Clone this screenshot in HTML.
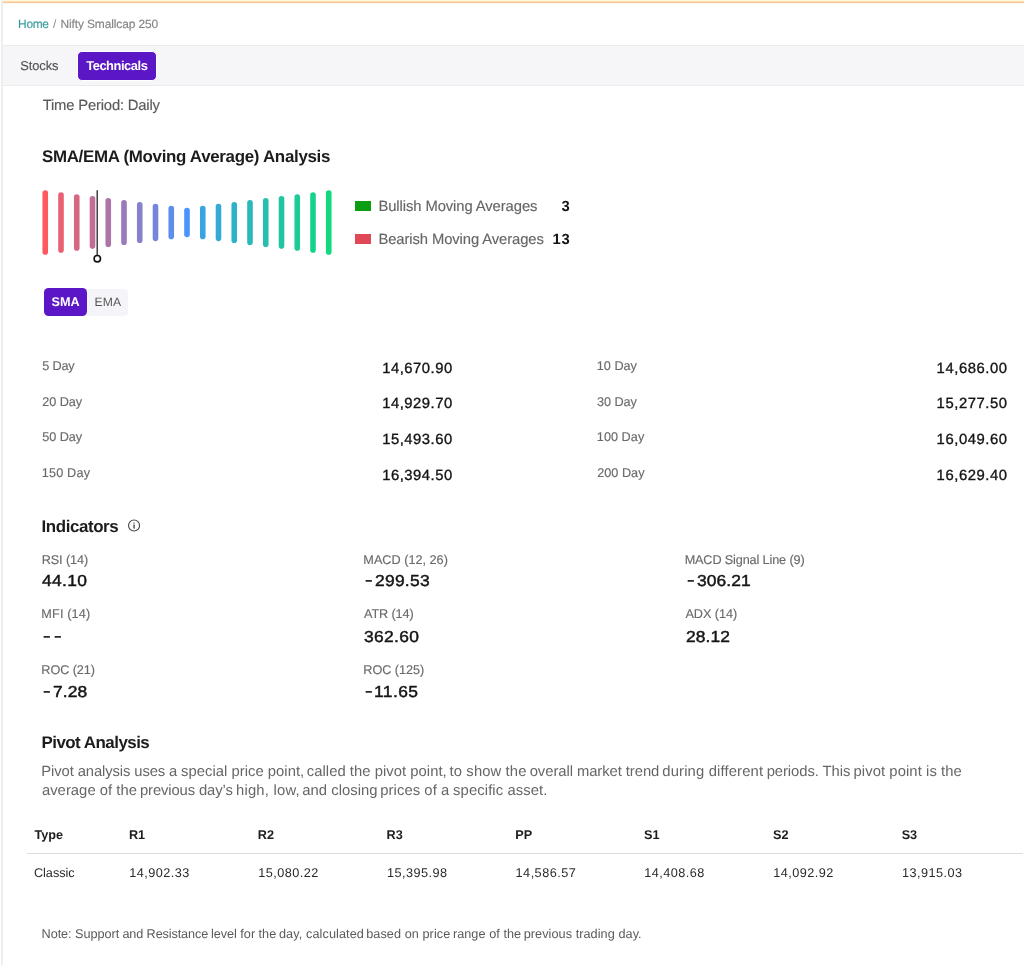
<!DOCTYPE html>
<html><head><meta charset="utf-8"><title>Nifty Smallcap 250 - Technicals</title>
<style>
html,body{margin:0;padding:0;background:#fff;}
body{width:1024px;height:965px;position:relative;overflow:hidden;font-family:"Liberation Sans",sans-serif;}
.t{position:absolute;white-space:nowrap;line-height:20px;font-family:"Liberation Sans",sans-serif;text-rendering:geometricPrecision;}
.b{position:absolute;}
.hy{position:absolute;border-radius:0.3px;}
</style></head><body>
<!-- frame -->
<div class="b" style="left:1px;top:0;width:2px;height:965px;background:#eeeeee"></div>
<div class="b" style="left:3px;top:0;width:1021px;height:1px;background:#fefadc"></div>
<div class="b" style="left:3px;top:1px;width:1021px;height:1px;background:#fbddb0"></div>
<div class="b" style="left:3px;top:2px;width:1021px;height:1px;background:#f8c79a"></div>
<div class="b" style="left:3px;top:3px;width:1021px;height:1px;background:#fff7f2"></div>
<!-- tab bar -->
<div class="b" style="left:3px;top:45px;width:1021px;height:41px;background:#f6f6f9;border-top:1px solid #ebebeb;border-bottom:1px solid #ebebeb;box-sizing:border-box"></div>
<div class="b" style="left:77px;top:51px;width:80px;height:30px;box-sizing:border-box;border:1px solid #fff;border-radius:5px;background:#5b16c5"></div>
<!-- bars -->
<svg class="b" style="left:0;top:0" width="640" height="280" viewBox="0 0 640 280">
<line x1="45.25" y1="193.09" x2="45.25" y2="251.91" stroke="rgb(253, 90, 96)" stroke-width="5.6" stroke-linecap="round"/>
<line x1="61.00" y1="195.02" x2="61.00" y2="249.98" stroke="rgb(233, 96, 114)" stroke-width="5.6" stroke-linecap="round"/>
<line x1="76.75" y1="196.96" x2="76.75" y2="248.04" stroke="rgb(213, 103, 131)" stroke-width="5.6" stroke-linecap="round"/>
<line x1="92.50" y1="198.89" x2="92.50" y2="246.11" stroke="rgb(193, 109, 149)" stroke-width="5.6" stroke-linecap="round"/>
<line x1="108.25" y1="200.83" x2="108.25" y2="244.17" stroke="rgb(173, 116, 167)" stroke-width="5.6" stroke-linecap="round"/>
<line x1="124.00" y1="202.76" x2="124.00" y2="242.24" stroke="rgb(154, 122, 184)" stroke-width="5.6" stroke-linecap="round"/>
<line x1="139.75" y1="204.70" x2="139.75" y2="240.30" stroke="rgb(134, 129, 202)" stroke-width="5.6" stroke-linecap="round"/>
<line x1="155.50" y1="206.63" x2="155.50" y2="238.37" stroke="rgb(114, 135, 220)" stroke-width="5.6" stroke-linecap="round"/>
<line x1="171.25" y1="208.56" x2="171.25" y2="236.44" stroke="rgb(94, 142, 237)" stroke-width="5.6" stroke-linecap="round"/>
<line x1="187.00" y1="210.50" x2="187.00" y2="234.50" stroke="rgb(74, 148, 255)" stroke-width="5.6" stroke-linecap="round"/>
<line x1="202.75" y1="208.56" x2="202.75" y2="236.44" stroke="rgb(58, 164, 224)" stroke-width="5.6" stroke-linecap="round"/>
<line x1="218.50" y1="206.63" x2="218.50" y2="238.37" stroke="rgb(53, 170, 212)" stroke-width="5.6" stroke-linecap="round"/>
<line x1="234.25" y1="204.70" x2="234.25" y2="240.30" stroke="rgb(48, 177, 200)" stroke-width="5.6" stroke-linecap="round"/>
<line x1="250.00" y1="202.76" x2="250.00" y2="242.24" stroke="rgb(43, 184, 187)" stroke-width="5.6" stroke-linecap="round"/>
<line x1="265.75" y1="200.83" x2="265.75" y2="244.17" stroke="rgb(38, 190, 175)" stroke-width="5.6" stroke-linecap="round"/>
<line x1="281.50" y1="198.89" x2="281.50" y2="246.11" stroke="rgb(33, 196, 163)" stroke-width="5.6" stroke-linecap="round"/>
<line x1="297.25" y1="196.96" x2="297.25" y2="248.04" stroke="rgb(28, 203, 150)" stroke-width="5.6" stroke-linecap="round"/>
<line x1="313.00" y1="195.02" x2="313.00" y2="249.98" stroke="rgb(23, 210, 138)" stroke-width="5.6" stroke-linecap="round"/>
<line x1="328.75" y1="193.09" x2="328.75" y2="251.91" stroke="rgb(18, 216, 126)" stroke-width="5.6" stroke-linecap="round"/>
<line x1="97.2" y1="190.3" x2="97.2" y2="255.2" stroke="#222" stroke-width="1.3"/>
<circle cx="97.3" cy="258.7" r="3.2" fill="#fff" stroke="#111" stroke-width="1.6"/>
</svg>
<!-- legend -->
<div class="b" style="left:355px;top:201.2px;width:16px;height:10px;background:#0b9e12"></div>
<div class="b" style="left:355px;top:234px;width:16px;height:10px;background:#e04858"></div>
<!-- sma/ema toggle -->
<div class="b" style="left:87px;top:289.1px;width:41.2px;height:26.6px;background:#f5f5f9;border-radius:0 4px 4px 0"></div>
<div class="b" style="left:44.4px;top:288.4px;width:42.6px;height:27.8px;background:#5b16c5;border-radius:4.5px"></div>
<!-- info icon -->
<svg class="b" style="left:126px;top:517px" width="16" height="16" viewBox="126 517 16 16">
<circle cx="134.05" cy="525.45" r="5.5" fill="none" stroke="#4a4a4a" stroke-width="1.15"/>
<rect x="133.3" y="524.5" width="1.5" height="4.1" fill="#555"/>
<rect x="133.3" y="522.4" width="1.5" height="1.4" fill="#888"/>
</svg>
<!-- table rule -->
<div class="b" style="left:26.5px;top:853px;width:996.5px;height:1px;background:#dcdcdc"></div>
<div id="tx" style="position:absolute;left:0;top:0;width:1024px;height:965px;will-change:transform">
<span class="t" style="left:18.11px;top:14.00px;font-size:11.94px;font-weight:400;color:#3b9d9d;letter-spacing:-0.333px;-webkit-text-stroke:0.15px;">Home</span>
<span class="t" style="left:53.00px;top:14.00px;font-size:11.94px;font-weight:400;color:#8c8c8c;">/</span>
<span class="t" style="left:60.41px;top:14.00px;font-size:11.94px;font-weight:400;color:#858585;letter-spacing:-0.105px;-webkit-text-stroke:0.15px;">Nifty Smallcap 250</span>
<span class="t" style="left:20.26px;top:56.00px;font-size:12.9px;font-weight:400;color:#555555;letter-spacing:-0.079px;-webkit-text-stroke:0.15px;">Stocks</span>
<span class="t" style="left:86.23px;top:56.00px;font-size:12.9px;font-weight:700;color:#ffffff;letter-spacing:-0.451px;">Technicals</span>
<span class="t" style="left:42.71px;top:96.00px;font-size:14.8px;font-weight:400;color:#5a5a5a;letter-spacing:-0.181px;-webkit-text-stroke:0.15px;">Time Period: Daily</span>
<span class="t" style="left:41.91px;top:147.00px;font-size:16.91px;font-weight:700;color:#1c1c1c;letter-spacing:-0.301px;">SMA/EMA (Moving Average) Analysis</span>
<span class="t" style="left:378.39px;top:197.00px;font-size:14.8px;font-weight:400;color:#666666;letter-spacing:-0.085px;-webkit-text-stroke:0.15px;">Bullish Moving Averages</span>
<span class="t" style="left:561.39px;top:197.00px;font-size:14.8px;font-weight:700;color:#141414;">3</span>
<span class="t" style="left:378.39px;top:230.00px;font-size:14.8px;font-weight:400;color:#666666;letter-spacing:-0.092px;-webkit-text-stroke:0.15px;">Bearish Moving Averages</span>
<span class="t" style="left:552.39px;top:230.00px;font-size:14.8px;font-weight:700;color:#141414;letter-spacing:0.790px;">13</span>
<span class="t" style="left:51.58px;top:292.00px;font-size:12.68px;font-weight:700;color:#ffffff;letter-spacing:-0.058px;">SMA</span>
<span class="t" style="left:94.60px;top:292.00px;font-size:12.16px;font-weight:400;color:#555555;letter-spacing:0.107px;">EMA</span>
<span class="t" style="left:42.15px;top:356.00px;font-size:12.68px;font-weight:400;color:#6a6a6a;letter-spacing:-0.149px;-webkit-text-stroke:0.15px;">5 Day</span>
<span class="t" style="left:382.13px;top:359.00px;font-size:14.8px;font-weight:400;color:#141414;letter-spacing:0.531px;-webkit-text-stroke:0.35px;">14,670.90</span>
<span class="t" style="left:596.84px;top:356.00px;font-size:12.68px;font-weight:400;color:#6a6a6a;letter-spacing:-0.011px;-webkit-text-stroke:0.15px;">10 Day</span>
<span class="t" style="left:936.61px;top:359.00px;font-size:14.8px;font-weight:400;color:#141414;letter-spacing:0.567px;-webkit-text-stroke:0.35px;">14,686.00</span>
<span class="t" style="left:42.13px;top:392.00px;font-size:12.68px;font-weight:400;color:#6a6a6a;letter-spacing:-0.019px;-webkit-text-stroke:0.15px;">20 Day</span>
<span class="t" style="left:382.13px;top:394.00px;font-size:14.8px;font-weight:400;color:#141414;letter-spacing:0.531px;-webkit-text-stroke:0.35px;">14,929.70</span>
<span class="t" style="left:597.07px;top:392.00px;font-size:12.68px;font-weight:400;color:#6a6a6a;letter-spacing:-0.093px;-webkit-text-stroke:0.15px;">30 Day</span>
<span class="t" style="left:936.61px;top:394.00px;font-size:14.8px;font-weight:400;color:#141414;letter-spacing:0.567px;-webkit-text-stroke:0.35px;">15,277.50</span>
<span class="t" style="left:42.15px;top:427.00px;font-size:12.68px;font-weight:400;color:#6a6a6a;letter-spacing:-0.033px;-webkit-text-stroke:0.15px;">50 Day</span>
<span class="t" style="left:382.13px;top:430.00px;font-size:14.8px;font-weight:400;color:#141414;letter-spacing:0.531px;-webkit-text-stroke:0.35px;">15,493.60</span>
<span class="t" style="left:596.84px;top:427.00px;font-size:12.68px;font-weight:400;color:#6a6a6a;letter-spacing:0.033px;-webkit-text-stroke:0.15px;">100 Day</span>
<span class="t" style="left:936.61px;top:430.00px;font-size:14.8px;font-weight:400;color:#141414;letter-spacing:0.567px;-webkit-text-stroke:0.35px;">16,049.60</span>
<span class="t" style="left:41.84px;top:463.00px;font-size:12.68px;font-weight:400;color:#6a6a6a;letter-spacing:0.158px;-webkit-text-stroke:0.15px;">150 Day</span>
<span class="t" style="left:382.13px;top:466.00px;font-size:14.8px;font-weight:400;color:#141414;letter-spacing:0.531px;-webkit-text-stroke:0.35px;">16,394.50</span>
<span class="t" style="left:597.13px;top:463.00px;font-size:12.68px;font-weight:400;color:#6a6a6a;letter-spacing:0.029px;-webkit-text-stroke:0.15px;">200 Day</span>
<span class="t" style="left:936.61px;top:466.00px;font-size:14.8px;font-weight:400;color:#141414;letter-spacing:0.567px;-webkit-text-stroke:0.35px;">16,629.40</span>
<span class="t" style="left:41.55px;top:517.00px;font-size:16.91px;font-weight:700;color:#1c1c1c;letter-spacing:-0.407px;">Indicators</span>
<span class="t" style="left:41.63px;top:550.00px;font-size:12.68px;font-weight:400;color:#6a6a6a;letter-spacing:-0.094px;-webkit-text-stroke:0.15px;">RSI (14)</span>
<span class="t" style="left:363.33px;top:550.00px;font-size:12.68px;font-weight:400;color:#6a6a6a;letter-spacing:0.002px;-webkit-text-stroke:0.15px;">MACD (12, 26)</span>
<span class="t" style="left:684.63px;top:550.00px;font-size:12.68px;font-weight:400;color:#6a6a6a;letter-spacing:-0.135px;-webkit-text-stroke:0.15px;">MACD Signal Line (9)</span>
<span class="t" style="left:41.33px;top:604.00px;font-size:12.68px;font-weight:400;color:#6a6a6a;letter-spacing:0.139px;-webkit-text-stroke:0.15px;">MFI (14)</span>
<span class="t" style="left:364.09px;top:604.00px;font-size:12.68px;font-weight:400;color:#6a6a6a;letter-spacing:-0.123px;-webkit-text-stroke:0.15px;">ATR (14)</span>
<span class="t" style="left:685.39px;top:604.00px;font-size:12.68px;font-weight:400;color:#6a6a6a;letter-spacing:-0.039px;-webkit-text-stroke:0.15px;">ADX (14)</span>
<span class="t" style="left:41.33px;top:660.00px;font-size:12.68px;font-weight:400;color:#6a6a6a;letter-spacing:-0.080px;-webkit-text-stroke:0.15px;">ROC (21)</span>
<span class="t" style="left:363.33px;top:660.00px;font-size:12.68px;font-weight:400;color:#6a6a6a;letter-spacing:-0.058px;-webkit-text-stroke:0.15px;">ROC (125)</span>
<span class="t" style="left:42.33px;top:572.00px;font-size:15.85px;font-weight:400;color:#141414;letter-spacing:0.316px;-webkit-text-stroke:0.45px;transform:scaleX(1.1);transform-origin:0 0;">44.10</span>
<span class="t" style="left:374.55px;top:572.00px;font-size:15.85px;font-weight:400;color:#141414;letter-spacing:0.237px;-webkit-text-stroke:0.45px;transform:scaleX(1.1);transform-origin:0 0;">299.53</span>
<span class="t" style="left:696.56px;top:572.00px;font-size:15.85px;font-weight:400;color:#141414;letter-spacing:0.057px;-webkit-text-stroke:0.45px;transform:scaleX(1.1);transform-origin:0 0;">306.21</span>
<span class="t" style="left:364.16px;top:628.00px;font-size:15.85px;font-weight:400;color:#141414;letter-spacing:0.289px;-webkit-text-stroke:0.45px;transform:scaleX(1.1);transform-origin:0 0;">362.60</span>
<span class="t" style="left:685.65px;top:628.00px;font-size:15.85px;font-weight:400;color:#141414;letter-spacing:0.100px;-webkit-text-stroke:0.45px;transform:scaleX(1.1);transform-origin:0 0;">28.12</span>
<span class="t" style="left:52.72px;top:683.00px;font-size:15.85px;font-weight:400;color:#141414;letter-spacing:0.103px;-webkit-text-stroke:0.45px;transform:scaleX(1.1);transform-origin:0 0;">7.28</span>
<span class="t" style="left:374.46px;top:683.00px;font-size:15.85px;font-weight:400;color:#141414;letter-spacing:0.377px;-webkit-text-stroke:0.45px;transform:scaleX(1.1);transform-origin:0 0;">11.65</span>
<span class="t" style="left:365.44px;top:571.00px;font-size:15.85px;font-weight:400;color:#141414;-webkit-text-stroke:0.45px;transform:scaleX(1.42);transform-origin:0 0;">-</span>
<span class="t" style="left:686.94px;top:571.00px;font-size:15.85px;font-weight:400;color:#141414;-webkit-text-stroke:0.45px;transform:scaleX(1.42);transform-origin:0 0;">-</span>
<span class="t" style="left:43.44px;top:627.00px;font-size:15.85px;font-weight:400;color:#141414;-webkit-text-stroke:0.45px;transform:scaleX(1.42);transform-origin:0 0;">-</span>
<span class="t" style="left:53.94px;top:627.00px;font-size:15.85px;font-weight:400;color:#141414;-webkit-text-stroke:0.45px;transform:scaleX(1.42);transform-origin:0 0;">-</span>
<span class="t" style="left:43.44px;top:682.00px;font-size:15.85px;font-weight:400;color:#141414;-webkit-text-stroke:0.45px;transform:scaleX(1.42);transform-origin:0 0;">-</span>
<span class="t" style="left:365.44px;top:682.00px;font-size:15.85px;font-weight:400;color:#141414;-webkit-text-stroke:0.45px;transform:scaleX(1.42);transform-origin:0 0;">-</span>
<span class="t" style="left:41.45px;top:733.00px;font-size:16.91px;font-weight:700;color:#1c1c1c;letter-spacing:-0.509px;">Pivot Analysis</span>
<span class="t" style="left:41.36px;top:762.00px;font-size:14.8px;font-weight:400;color:#666666;letter-spacing:-0.110px;">Pivot analysis uses a</span>
<span class="t" style="left:181.12px;top:762.00px;font-size:14.8px;font-weight:400;color:#666666;letter-spacing:0.026px;">special price point,</span>
<span class="t" style="left:306.81px;top:762.00px;font-size:14.8px;font-weight:400;color:#666666;letter-spacing:0.041px;">called the pivot point,</span>
<span class="t" style="left:449.57px;top:762.00px;font-size:14.8px;font-weight:400;color:#666666;letter-spacing:0.119px;">to show the</span>
<span class="t" style="left:529.71px;top:762.00px;font-size:14.8px;font-weight:400;color:#666666;letter-spacing:-0.061px;">overall market trend</span>
<span class="t" style="left:662.34px;top:762.00px;font-size:14.8px;font-weight:400;color:#666666;letter-spacing:0.151px;">during different</span>
<span class="t" style="left:766.70px;top:762.00px;font-size:14.8px;font-weight:400;color:#666666;letter-spacing:-0.067px;">periods. This</span>
<span class="t" style="left:853.50px;top:762.00px;font-size:14.8px;font-weight:400;color:#666666;letter-spacing:0.080px;">pivot point is the</span>
<span class="t" style="left:41.91px;top:781.00px;font-size:14.8px;font-weight:400;color:#666666;letter-spacing:0.038px;">average of the</span>
<span class="t" style="left:140.00px;top:781.00px;font-size:14.8px;font-weight:400;color:#666666;letter-spacing:-0.116px;">previous day’s</span>
<span class="t" style="left:235.96px;top:781.00px;font-size:14.8px;font-weight:400;color:#666666;letter-spacing:0.217px;">high, low,</span>
<span class="t" style="left:302.31px;top:781.00px;font-size:14.8px;font-weight:400;color:#666666;letter-spacing:0.028px;">and closing</span>
<span class="t" style="left:380.25px;top:781.00px;font-size:14.8px;font-weight:400;color:#666666;letter-spacing:0.075px;">prices of a</span>
<span class="t" style="left:453.12px;top:781.00px;font-size:14.8px;font-weight:400;color:#666666;letter-spacing:0.100px;">specific asset.</span>
<span class="t" style="left:41.54px;top:924.00px;font-size:12.68px;font-weight:400;color:#5a5a5a;letter-spacing:-0.047px;">Note: Support</span>
<span class="t" style="left:122.40px;top:924.00px;font-size:12.68px;font-weight:400;color:#5a5a5a;letter-spacing:-0.116px;">and Resistance</span>
<span class="t" style="left:210.89px;top:924.00px;font-size:12.68px;font-weight:400;color:#5a5a5a;letter-spacing:-0.017px;">level for the</span>
<span class="t" style="left:278.93px;top:924.00px;font-size:12.68px;font-weight:400;color:#5a5a5a;letter-spacing:0.100px;">day, calculated</span>
<span class="t" style="left:366.15px;top:924.00px;font-size:12.68px;font-weight:400;color:#5a5a5a;letter-spacing:0.077px;">based on price</span>
<span class="t" style="left:452.88px;top:924.00px;font-size:12.68px;font-weight:400;color:#5a5a5a;letter-spacing:0.054px;">range of the</span>
<span class="t" style="left:523.64px;top:924.00px;font-size:12.68px;font-weight:400;color:#5a5a5a;letter-spacing:0.066px;">previous trading day.</span>
<span class="t" style="left:34.53px;top:825.00px;font-size:12.68px;font-weight:700;color:#1c1c1c;">Type</span>
<span class="t" style="left:33.92px;top:863.00px;font-size:12.68px;font-weight:400;color:#2a2a2a;letter-spacing:-0.008px;">Classic</span>
<span class="t" style="left:128.96px;top:825.00px;font-size:12.68px;font-weight:700;color:#1c1c1c;">R1</span>
<span class="t" style="left:129.30px;top:863.00px;font-size:12.68px;font-weight:400;color:#2a2a2a;letter-spacing:0.461px;">14,902.33</span>
<span class="t" style="left:257.86px;top:825.00px;font-size:12.68px;font-weight:700;color:#1c1c1c;">R2</span>
<span class="t" style="left:258.20px;top:863.00px;font-size:12.68px;font-weight:400;color:#2a2a2a;letter-spacing:0.470px;">15,080.22</span>
<span class="t" style="left:386.56px;top:825.00px;font-size:12.68px;font-weight:700;color:#1c1c1c;">R3</span>
<span class="t" style="left:386.90px;top:863.00px;font-size:12.68px;font-weight:400;color:#2a2a2a;letter-spacing:0.458px;">15,395.98</span>
<span class="t" style="left:515.26px;top:825.00px;font-size:12.68px;font-weight:700;color:#1c1c1c;">PP</span>
<span class="t" style="left:515.60px;top:863.00px;font-size:12.68px;font-weight:400;color:#2a2a2a;letter-spacing:0.469px;">14,586.57</span>
<span class="t" style="left:644.08px;top:825.00px;font-size:12.68px;font-weight:700;color:#1c1c1c;">S1</span>
<span class="t" style="left:644.30px;top:863.00px;font-size:12.68px;font-weight:400;color:#2a2a2a;letter-spacing:0.458px;">14,408.68</span>
<span class="t" style="left:772.98px;top:825.00px;font-size:12.68px;font-weight:700;color:#1c1c1c;">S2</span>
<span class="t" style="left:773.20px;top:863.00px;font-size:12.68px;font-weight:400;color:#2a2a2a;letter-spacing:0.470px;">14,092.92</span>
<span class="t" style="left:901.68px;top:825.00px;font-size:12.68px;font-weight:700;color:#1c1c1c;">S3</span>
<span class="t" style="left:901.90px;top:863.00px;font-size:12.68px;font-weight:400;color:#2a2a2a;letter-spacing:0.461px;">13,915.03</span>
</div>
</body></html>
